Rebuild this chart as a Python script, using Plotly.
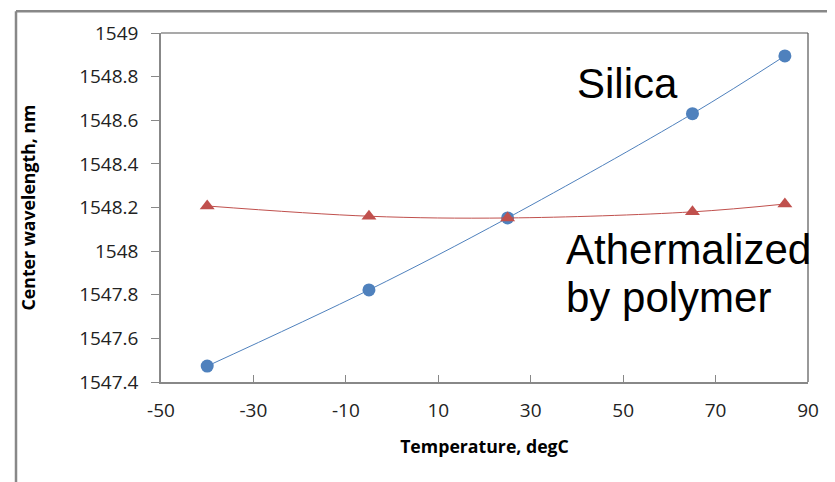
import plotly.graph_objects as go

temps = [-40, -5, 25, 65, 85]
silica = [1547.473, 1547.822, 1548.152, 1548.630, 1548.895]
polymer = [1548.207, 1548.160, 1548.152, 1548.180, 1548.216]
x_ticks = [-50, -30, -10, 10, 30, 50, 70, 90]
y_ticks = [1547.4, 1547.6, 1547.8, 1548, 1548.2, 1548.4, 1548.6, 1548.8, 1549]
y_tick_labels = ["1547.4", "1547.6", "1547.8", "1548", "1548.2", "1548.4", "1548.6", "1548.8", "1549"]

fig = go.Figure()
fig.add_trace(go.Scatter(
    x=temps, y=silica, mode="lines+markers", name="Silica",
    line=dict(color="#4F81BD", width=1, shape="spline"),
    marker=dict(symbol="circle", size=13, color="#4F81BD"),
))
fig.add_trace(go.Scatter(
    x=temps, y=polymer, mode="lines+markers", name="Athermalized by polymer",
    line=dict(color="#C0504D", width=1, shape="spline"),
    marker=dict(symbol="triangle-up", size=13, color="#C0504D"),
))

tick_font = dict(family="Open Sans, Liberation Sans, sans-serif", size=19, color="#222")
title_font = dict(family="Open Sans, Liberation Sans, sans-serif", size=17.7, color="#000")

# page body has an 8px margin, so the figure is drawn 8px right/down of the window origin
W, H = 827, 474
L, R, T, B = 153, 27, 23, 100
pw, ph = W - L - R, H - T - B

fig.update_layout(
    width=W, height=H,
    margin=dict(l=L, r=R, t=T, b=B),
    paper_bgcolor="white", plot_bgcolor="white",
    showlegend=False,
    xaxis=dict(
        range=[-50, 90], tickvals=x_ticks, ticktext=[str(v) for v in x_ticks],
        ticks="inside", ticklen=7, tickcolor="#888", tickwidth=1,
        showline=True, linecolor="#888", linewidth=1.5,
        showgrid=False, zeroline=False, tickfont=tick_font,
        ticklabelstandoff=10,
        title=dict(text="<b>Temperature, degC</b>", font=title_font, standoff=19),
    ),
    yaxis=dict(
        range=[1547.4, 1549], tickvals=y_ticks, ticktext=y_tick_labels,
        ticks="outside", ticklen=8, tickcolor="#888", tickwidth=1,
        showline=True, linecolor="#888", linewidth=1.5,
        showgrid=False, zeroline=False, tickfont=tick_font,
        ticklabelstandoff=9,
        title=dict(text="<b>Center wavelength, nm</b>", font=title_font, standoff=39),
    ),
)

def px(xw):
    return (xw - 8 - L) / pw

def py(yw):
    return (H - B - (yw - 8)) / ph

# plot-area top and right borders
fig.add_shape(type="line", xref="paper", yref="paper", x0=0, x1=1, y0=1, y1=1,
              line=dict(color="#555", width=1.2))
fig.add_shape(type="line", xref="paper", yref="paper", x0=1, x1=1, y0=0, y1=1,
              line=dict(color="#555", width=1.2))
# outer frame (top and left)
fig.add_shape(type="line", xref="paper", yref="paper", x0=px(16), x1=px(840), y0=py(9), y1=py(490),
              line=dict(color="#888", width=0)) if False else None
fig.add_shape(type="line", xref="paper", yref="paper", x0=px(16), x1=px(840), y0=py(9), y1=py(9),
              line=dict(color="#888", width=2.5))
fig.add_shape(type="line", xref="paper", yref="paper", x0=px(16), x1=px(16), y0=py(9), y1=py(490),
              line=dict(color="#888", width=2.5))

ann_font = dict(family="Liberation Sans, Arial, sans-serif", size=42, color="#000")
fig.add_annotation(xref="paper", yref="paper", x=px(575), y=py(82),
                   text="Silica", showarrow=False, xanchor="left", yanchor="middle", font=ann_font)
fig.add_annotation(xref="paper", yref="paper", x=px(564), y=py(249),
                   text="Athermalized", showarrow=False, xanchor="left", yanchor="middle", font=ann_font)
fig.add_annotation(xref="paper", yref="paper", x=px(564), y=py(297),
                   text="by polymer", showarrow=False, xanchor="left", yanchor="middle", font=ann_font)

fig.write_html("out.html")
